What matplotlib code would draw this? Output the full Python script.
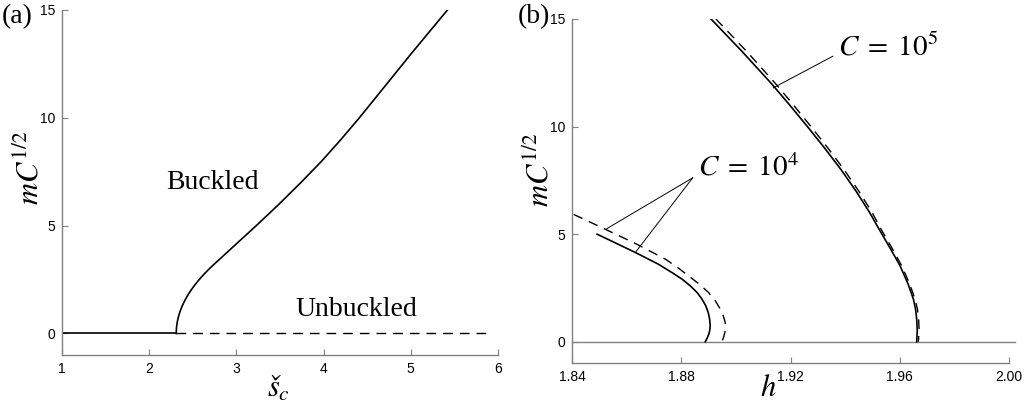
import matplotlib
matplotlib.use("Agg")
import matplotlib.pyplot as plt

plt.rcParams['mathtext.fontset'] = 'stix'
plt.rcParams['font.family'] = 'Liberation Serif'

# (a) buckled branch: amplitude against s_c
m_buck = [0.0, 0.25, 0.5, 0.75, 1.0, 1.25, 1.5, 1.75, 2.0, 2.25, 2.5, 2.75,
          3.0, 3.25, 3.5, 4.0, 5.0, 6.0, 7.0, 8.0, 9.0, 10.0, 11.0, 12.0,
          13.0, 14.0, 15.0]
s_buck = [2.31, 2.3126, 2.3206, 2.3337, 2.3522, 2.3759, 2.405, 2.4392, 2.4788,
          2.5236, 2.5738, 2.6291, 2.6898, 2.7555, 2.823, 2.958, 3.228, 3.49,
          3.74, 3.98, 4.20, 4.41, 4.61, 4.81, 5.01, 5.215, 5.42]
s_flat = [1.0, 2.31]
s_unstable = [2.31, 5.93]

# (b) C = 1e4, solid and dashed
m4_solid = [5.0, 4.6, 4.15, 3.6, 3.2, 2.91, 2.6, 2.29, 2.0, 1.67, 1.35,
            1.05, 0.74, 0.5, 0.36, 0.2, 0.0]
h4_solid = [1.8492, 1.8558, 1.8632, 1.8717, 1.8768, 1.8803, 1.8833, 1.8858,
            1.8875, 1.8890, 1.8899, 1.8904, 1.8906, 1.8904, 1.8901, 1.8896, 1.8888]
m4_dash = [5.92, 5.23, 4.53, 3.84, 3.45, 3.06, 2.68, 2.29, 1.9, 1.52, 1.2,
           0.90, 0.7, 0.51, 0.25, 0.0]
h4_dash = [1.8406, 1.8522, 1.8638, 1.8742, 1.8787, 1.8827, 1.8866, 1.8900,
           1.8925, 1.8943, 1.8954, 1.8961, 1.8962, 1.8961, 1.8956, 1.8949]

# (b) C = 1e5, solid and dashed
m5 = [15.0, 13.5, 12.0, 11.0, 10.0, 9.0, 8.0, 7.0, 6.0, 5.15, 4.3, 3.53,
      2.7, 1.98, 1.5, 1.05, 0.5, 0.0]
h5_solid = [1.8909, 1.9022, 1.9130, 1.9197, 1.9262, 1.9325, 1.9385, 1.9440,
            1.9490, 1.9528, 1.9567, 1.9601, 1.9630, 1.9650, 1.9658, 1.9662,
            1.9664, 1.9662]
h5_dash = [1.8927, 1.9039, 1.9145, 1.9211, 1.9275, 1.9337, 1.9396, 1.9450,
           1.9499, 1.9535, 1.9574, 1.9607, 1.9636, 1.9656, 1.9665, 1.9669,
           1.9671, 1.9668]

grey = '#808080'
fig = plt.figure(figsize=(10.33, 4.03), dpi=100)
ax1 = fig.add_axes([0.0600, 0.1191, 0.4221, 0.8561])
ax2 = fig.add_axes([0.5537, 0.0985, 0.4231, 0.8544])


def style(ax):
    for side in ['top', 'right']:
        ax.spines[side].set_visible(False)
    for side in ['left', 'bottom']:
        ax.spines[side].set_color(grey)
        ax.spines[side].set_linewidth(1.0)
    ax.tick_params(direction='in', length=4, color=grey, width=0.8, pad=5)
    for lab in ax.get_xticklabels() + ax.get_yticklabels():
        lab.set_family('Liberation Sans')
        lab.set_fontsize(10)


# panel (a)
ax1.plot(s_buck, m_buck, color='black', lw=1.2)
ax1.plot(s_flat, [0, 0], color='black', lw=1.2)
ax1.plot(s_unstable, [0, 0], color='black', lw=1.0, dashes=(7, 5))
ax1.set_xlim(1, 6)
ax1.set_ylim(-1, 15)
ax1.set_xticks([1, 2, 3, 4, 5, 6])
ax1.set_yticks([0, 5, 10, 15])
style(ax1)
ax1.text(2.73, 7.0, 'Buckled', fontsize=20, ha='center', va='center')
ax1.text(4.38, 1.1, 'Unbuckled', fontsize=20, ha='center', va='center')
ax1.set_ylabel(r'$mC^{1/2}$', fontsize=22)
ax1.yaxis.set_label_coords(-0.073, 0.542)
ax1.set_xlabel(r'$š_c$', fontsize=22)
ax1.xaxis.set_label_coords(0.497, -0.099)
ax1.xaxis.label.set_va('center')
ax1.yaxis.label.set_va('center')

# panel (b)
ax2.plot([1.84, 2.0022], [0, 0], color=grey, lw=1.0, clip_on=False)
ax2.plot(h4_solid, m4_solid, color='black', lw=1.2)
ax2.plot(h4_dash, m4_dash, color='black', lw=1.0, dashes=(7, 5))
ax2.plot(h5_solid, m5, color='black', lw=1.2)
ax2.plot(h5_dash, m5, color='black', lw=1.0, dashes=(7, 5))
ax2.set_xlim(1.84, 2.00)
ax2.set_ylim(-1, 15)
ax2.set_xticks([1.84, 1.88, 1.92, 1.96, 2.00])
ax2.set_xticklabels(['1.84', '1.88', '1.92', '1.96', '2.00'])
ax2.set_yticks([0, 5, 10, 15])
style(ax2)

# leader lines to the curve labels
ax2.plot([1.9355, 1.9137], [13.27, 11.8], color='black', lw=0.7)
ax2.plot([1.8842, 1.8528], [7.62, 5.26], color='black', lw=0.7)
ax2.plot([1.8842, 1.8635], [7.62, 4.2], color='black', lw=0.7)
ax2.text(1.9374, 13.7, r'$C\;=\;10^5$', fontsize=21, ha='left', va='center')
ax2.text(1.8862, 8.1, r'$C\;=\;10^4$', fontsize=21, ha='left', va='center')

ax2.set_ylabel(r'$mC^{1/2}$', fontsize=22)
ax2.yaxis.set_label_coords(-0.073, 0.562)
ax2.yaxis.label.set_va('center')
ax2.set_xlabel(r'$h$', fontsize=22)
ax2.xaxis.set_label_coords(0.449, -0.072)
ax2.xaxis.label.set_va('center')

fig.text(0.002, 0.960, '(a)', fontsize=20, ha='left', va='center')
fig.text(0.5015, 0.958, '(b)', fontsize=20, ha='left', va='center')

fig.savefig('out.png', dpi=100)
